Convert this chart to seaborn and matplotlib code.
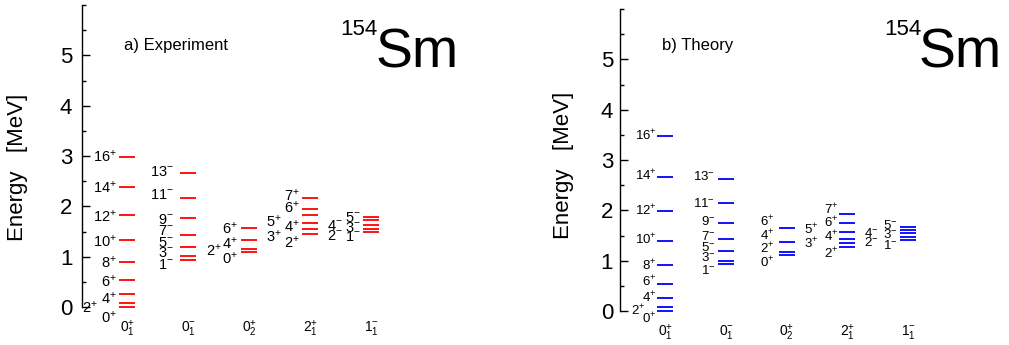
import seaborn as sns
import matplotlib.pyplot as plt
import pandas as pd
from matplotlib.ticker import MultipleLocator

sns.set_style("ticks")
plt.rcParams['font.family'] = ['Liberation Sans', 'DejaVu Sans']
plt.rcParams['mathtext.fontset'] = 'custom'
plt.rcParams['mathtext.rm'] = 'Liberation Sans'
plt.rcParams.update({
    'text.color': 'black',
    'axes.edgecolor': 'black',
    'axes.labelcolor': 'black',
    'xtick.color': 'black',
    'ytick.color': 'black',
})

# bands along the x axis
band_labels = [r'$\mathregular{0^{+}_{1}}$', r'$\mathregular{0^{-}_{1}}$', r'$\mathregular{0^{+}_{2}}$',
               r'$\mathregular{2^{+}_{1}}$', r'$\mathregular{1^{-}_{1}}$']

# spins of the levels in each band
spins_gsb = ['0+', '2+', '4+', '6+', '8+', '10+', '12+', '14+', '16+']
spins_oct = ['1-', '3-', '5-', '7-', '9-', '11-', '13-']
spins_b02 = ['0+', '2+', '4+', '6+']
spins_gam = ['2+', '3+', '4+', '5+', '6+', '7+']
spins_k1 = ['1-', '2-', '3-', '4-', '5-']

# experimental energies (MeV)
exp_gsb = [0.0, 0.08, 0.26, 0.53, 0.89, 1.34, 1.83, 2.39, 2.99]
exp_oct = [0.93, 1.01, 1.19, 1.43, 1.76, 2.17, 2.66]
exp_b02 = [1.09, 1.16, 1.34, 1.57]
exp_gam = [1.46, 1.55, 1.67, 1.82, 1.95, 2.16]
exp_k1 = [1.49, 1.54, 1.63, 1.72, 1.78]

# theoretical energies (MeV)
th_gsb = [0.0, 0.08, 0.25, 0.54, 0.92, 1.40, 1.99, 2.67, 3.47]
th_oct = [0.93, 1.00, 1.20, 1.44, 1.75, 2.15, 2.62]
th_b02 = [1.11, 1.17, 1.37, 1.64]
th_gam = [1.27, 1.35, 1.43, 1.57, 1.74, 1.92]
th_k1 = [1.41, 1.47, 1.54, 1.61, 1.67]

# --- layout of the spin labels (digit centre in MeV, column 1 = pushed further left)
lab_exp = [
    ([-0.21, -0.01, 0.17, 0.51, 0.88, 1.31, 1.80, 2.38, 2.99], [0, 1, 0, 0, 0, 0, 0, 0, 0]),
    ([0.85, 1.10, 1.30, 1.53, 1.76, 2.24, 2.71], [0] * 7),
    ([0.97, 1.13, 1.27, 1.57], [0, 1, 0, 0]),
    ([1.28, 1.41, 1.61, 1.71, 1.98, 2.22], [0, 1, 0, 1, 0, 0]),
    ([1.41, 1.44, 1.60, 1.64, 1.79], [0, 1, 0, 1, 0]),
]
gap_exp = [(2, 21), (6, 6), (3.5, 19), (2.5, 20.5), (3, 21)]
lab_th = [
    ([-0.14, 0.01, 0.28, 0.59, 0.91, 1.42, 2.00, 2.69, 3.50], [0, 1, 0, 0, 0, 0, 0, 0, 0]),
    ([0.84, 1.10, 1.30, 1.52, 1.82, 2.17, 2.70], [0] * 7),
    ([0.98, 1.24, 1.50, 1.79], [0] * 4),
    ([1.15, 1.35, 1.49, 1.62, 1.77, 2.02], [0, 1, 0, 1, 0, 0]),
    ([1.34, 1.39, 1.55, 1.58, 1.74], [0, 1, 0, 1, 0]),
]
gap_th = [(1, 12), (3, 3), (4, 4), (1, 21), (3, 22)]

spins = [spins_gsb, spins_oct, spins_b02, spins_gam, spins_k1]


def spin_tex(s):
    return r'$\mathregular{%s^{%s}}$' % (s[:-1], s[-1])


def level_scheme(ax, energies, color, labels, gaps, fsize, xlim):
    rows = []
    for i, band in enumerate(energies):
        for e in band:
            rows.append({'band': i, 'energy': e})
    df = pd.DataFrame(rows)
    sns.scatterplot(data=df, x='band', y='energy', marker='_', s=133, color=color,
                    linewidth=1.3, ax=ax, clip_on=False, legend=False)
    for i, band in enumerate(energies):
        ys, cols = labels[i]
        for s, y, c in zip(spins[i], ys, cols):
            ax.annotate(spin_tex(s), xy=(i, y), xytext=(-8 - gaps[i][c], -5.2),
                        textcoords='offset pixels', ha='right', va='baseline',
                        fontsize=fsize, annotation_clip=False)
    ax.set_xlim(*xlim)
    ax.set_ylim(0, 6)
    ax.set_xticks(range(len(band_labels)))
    ax.set_xticklabels(band_labels, fontsize=10)
    ax.set_yticks(range(6))
    ax.yaxis.set_minor_locator(MultipleLocator(0.5))
    ax.tick_params(axis='y', which='major', direction='in', length=5.5, width=1, labelsize=16, pad=7)
    ax.tick_params(axis='y', which='minor', direction='in', length=3, width=1)
    ax.tick_params(axis='x', length=0, pad=8.5)
    for sp in ['top', 'right', 'bottom']:
        ax.spines[sp].set_visible(False)
    ax.spines['left'].set_linewidth(1)
    ax.set_xlabel('')
    ax.set_ylabel('')


W, H = 1009, 345
fig = plt.figure(figsize=(W / 100, H / 100), dpi=100)

ax1 = fig.add_axes([82 / W, (H - 307) / H, 387 / W, 302 / H])
level_scheme(ax1, [exp_gsb, exp_oct, exp_b02, exp_gam, exp_k1], '#ff0000', lab_exp, gap_exp, 10.5,
             (-0.74, 5.6))

ax2 = fig.add_axes([620 / W, (H - 311) / H, 373 / W, 302 / H])
level_scheme(ax2, [th_gsb, th_oct, th_b02, th_gam, th_k1], '#0000ff', lab_th, gap_th, 9.5,
             (-0.75, 5.4))
ax2.tick_params(axis='y', which='major', pad=5)

# panel texts
fig.text(124 / W, 1 - 45.5 / H, 'a) Experiment', fontsize=12, va='center')
fig.text(662 / W, 1 - 45.5 / H, 'b) Theory', fontsize=12, va='center')
for x0 in [378, 921]:
    fig.text(x0 / W, 1 - 35 / H, '154', fontsize=16, ha='right', va='baseline')
    fig.text((x0 - 2) / W, 1 - 68 / H, 'Sm', fontsize=40, ha='left', va='baseline')
fig.text(18 / W, 1 - 167 / H, 'Energy   [MeV]', fontsize=16, rotation=90, ha='center', va='center')
fig.text(563 / W, 1 - 165 / H, 'Energy   [MeV]', fontsize=16, rotation=90, ha='center', va='center')

fig.savefig('out.png', dpi=100)
